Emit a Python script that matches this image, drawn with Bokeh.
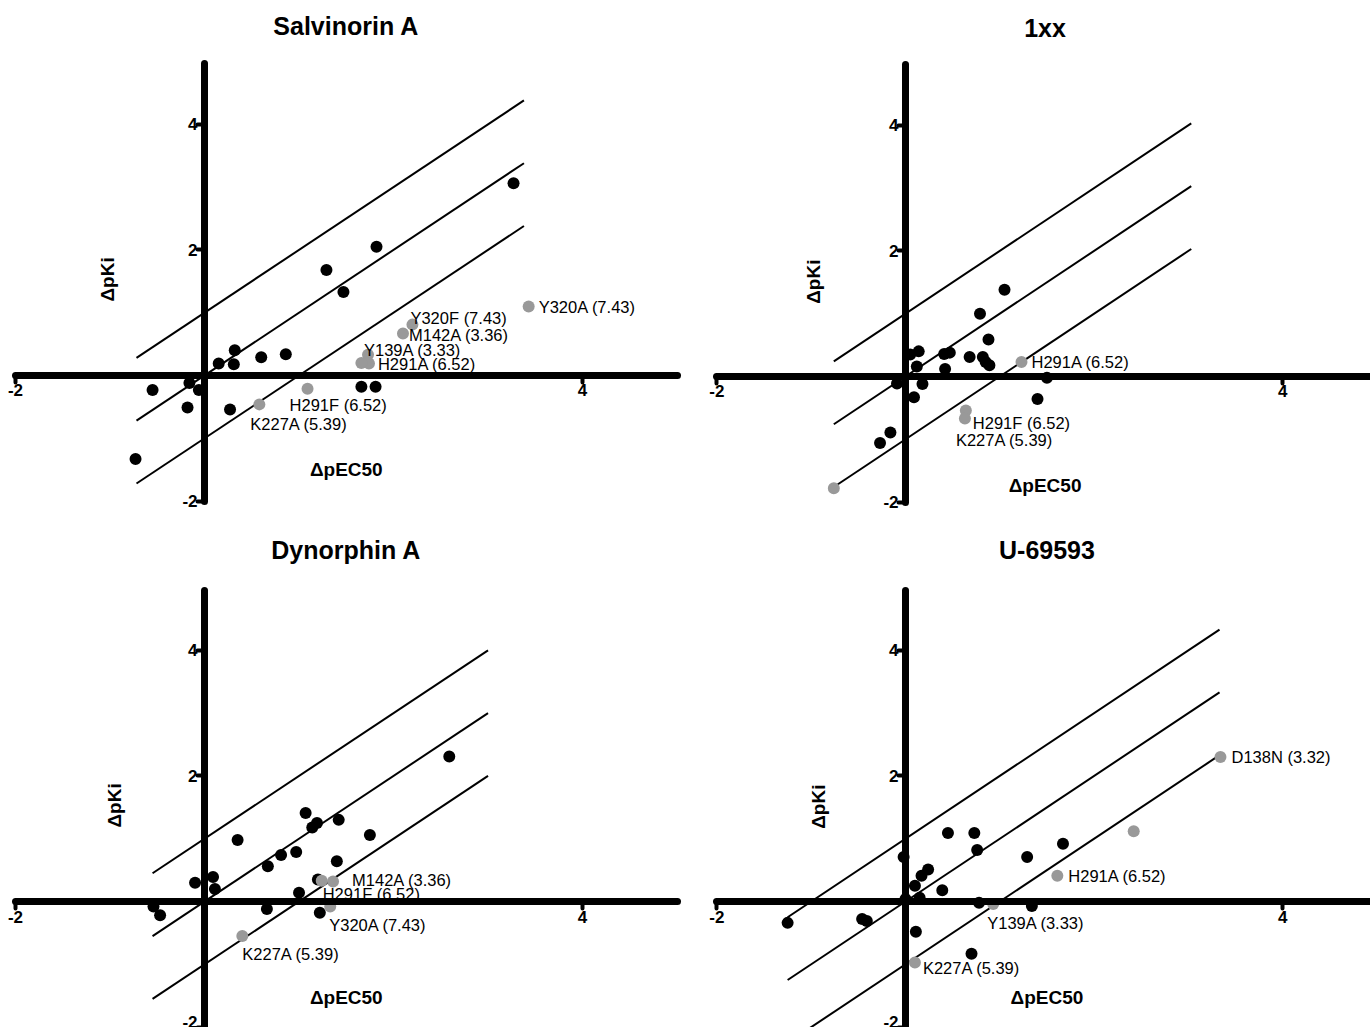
from bokeh.plotting import figure
from bokeh.models import Range1d, FixedTicker, Label, ColumnDataSource
from bokeh.layouts import column, row
from bokeh.embed import file_html
from bokeh.resources import INLINE
from bokeh.core.properties import value
import math

# ---------------- data ----------------
TITLES = ["Salvinorin A", "1xx", "Dynorphin A", "U-69593"]
X_TICKS = [-2, 4]
Y_TICKS = [-2, 2, 4]
TICK_TEXT = {-2: "-2", 2: "2", 4: "4"}
X_LABEL = "\u0394pEC50"
Y_LABEL = "\u0394pKi"
REF_OFFSETS = [1, 0, -1]          # reference lines y = x + c
REF_X_EXTENT = [(-0.72, 3.38), (-0.76, 3.03), (-0.55, 3.00), (-1.25, 3.33)]

# Salvinorin A
sal_black_x = [3.27, 1.82, 1.29, 1.47, 0.32, 0.15, 0.31, 0.60, 0.86, -0.55, -0.16, -0.06, -0.18, 0.27, -0.73, 1.66, 1.81]
sal_black_y = [3.06, 2.05, 1.68, 1.33, 0.40, 0.19, 0.18, 0.29, 0.34, -0.23, -0.12, -0.23, -0.51, -0.54, -1.33, -0.18, -0.18]
sal_grey_x = [3.43, 2.20, 2.10, 1.73, 1.74, 1.66, 1.09, 0.58]
sal_grey_y = [1.10, 0.81, 0.67, 0.33, 0.19, 0.20, -0.21, -0.46]
sal_grey_lab = ["Y320A (7.43)", "Y320F (7.43)", "M142A (3.36)", "Y139A (3.33)", "H291A (6.52)", "", "H291F (6.52)", "K227A (5.39)"]

# 1xx
xx_black_x = [1.05, 0.79, 0.88, 0.14, 0.05, 0.12, 0.41, 0.47, 0.42, 0.68, 0.82, 0.85, 0.89, 1.50, 1.40, -0.09, 0.18, 0.09, -0.16, -0.27]
xx_black_y = [1.38, 1.00, 0.59, 0.40, 0.35, 0.16, 0.36, 0.38, 0.12, 0.31, 0.31, 0.23, 0.18, -0.02, -0.36, -0.11, -0.12, -0.33, -0.89, -1.06]
xx_grey_x = [1.23, 0.64, 0.63, -0.76]
xx_grey_y = [0.23, -0.54, -0.67, -1.78]
xx_grey_lab = ["H291A (6.52)", "H291F (6.52)", "K227A (5.39)", ""]

# Dynorphin A
dyn_black_x = [2.59, 1.07, 1.19, 1.14, 1.42, 1.75, 0.35, 0.81, 0.97, 0.67, 1.40, -0.10, 0.09, 0.11, 1.00, 1.20, 0.66, 1.22, -0.47, -0.54]
dyn_black_y = [2.31, 1.41, 1.25, 1.18, 1.30, 1.06, 0.98, 0.74, 0.79, 0.56, 0.64, 0.30, 0.39, 0.20, 0.14, 0.35, -0.12, -0.18, -0.22, -0.08]
dyn_grey_x = [1.36, 1.24, 1.33, 0.40]
dyn_grey_y = [0.32, 0.33, -0.08, -0.55]
dyn_grey_lab = ["M142A (3.36)", "H291F (6.52)", "Y320A (7.43)", "K227A (5.39)"]

# U-69593
u69_black_x = [-1.25, -0.46, -0.41, 0.45, 0.73, 0.76, 1.67, 1.29, -0.02, 0.24, 0.17, 0.10, 0.39, 0.15, 0.00, 0.78, 1.34, 0.11, 0.70]
u69_black_y = [-0.34, -0.28, -0.31, 1.09, 1.09, 0.82, 0.92, 0.71, 0.71, 0.51, 0.41, 0.25, 0.18, 0.06, 0.04, -0.02, -0.07, -0.48, -0.83]
u69_grey_x = [3.34, 2.42, 1.61, 0.93, 0.10]
u69_grey_y = [2.30, 1.12, 0.41, -0.04, -0.97]
u69_grey_lab = ["D138N (3.32)", "", "H291A (6.52)", "Y139A (3.33)", "K227A (5.39)"]

# ---------------- styles / placement ----------------
LAB_DX = [[10, -2, 6, -4, 9, 0, -18, -9], [10, 7, -9, 0], [19, 1, -1, 0], [11, 0, 11, -6, 8]]
LAB_DY = [[1, -7, 2, -5, 0, 0, 16, 20], [0, 13, 21, 0], [-1, 13, 18, 18], [0, 0, 0, 19, 6]]
XLAB_POS = [(1.50, -1.50), (1.48, -1.74), (1.50, -1.53), (1.50, -1.53)]
YLAB_POS = [(-1.03, 1.53), (-0.98, 1.51), (-0.95, 1.53), (-0.92, 1.51)]
TITLE_POS = [(1.50, 5.56), (1.48, 5.55), (1.50, 5.59), (1.50, 5.60)]

FONT = "Liberation Sans"
GREY = "#999999"

SIZES = [(708, 534), (662, 534), (708, 493), (662, 493)]
XR = [(-2.159, 5.333), (-2.089, 4.931), (-2.159, 5.333), (-2.089, 4.931)]
YR = [(-2.532, 5.971), (-2.516, 5.987), (-2.006, 5.844), (-2.006, 5.844)]

panels = [
    (sal_black_x, sal_black_y, sal_grey_x, sal_grey_y, sal_grey_lab),
    (xx_black_x, xx_black_y, xx_grey_x, xx_grey_y, xx_grey_lab),
    (dyn_black_x, dyn_black_y, dyn_grey_x, dyn_grey_y, dyn_grey_lab),
    (u69_black_x, u69_black_y, u69_grey_x, u69_grey_y, u69_grey_lab),
]


def make_panel(i):
    bx, by, gx, gy, glab = panels[i]
    w, h = SIZES[i]
    p = figure(width=w, height=h, x_range=Range1d(*XR[i]), y_range=Range1d(*YR[i]),
               output_backend="svg", toolbar_location=None, min_border=0,
               outline_line_color=None, background_fill_color="white",
               border_fill_color="white")
    p.xgrid.grid_line_color = None
    p.ygrid.grid_line_color = None

    for ax, ticks in ((p.xaxis, X_TICKS), (p.yaxis, Y_TICKS)):
        ax.fixed_location = 0
        ax.ticker = FixedTicker(ticks=ticks)
        ax.major_label_overrides = {t: TICK_TEXT[t] for t in ticks}
        ax.axis_line_width = 7
        ax.axis_line_color = "black"
        ax.axis_line_cap = "round"
        ax.major_tick_line_width = 4
        ax.major_tick_line_cap = "round"
        ax.major_tick_line_color = "black"
        ax.major_tick_in = 0
        ax.major_tick_out = 7
        ax.minor_tick_line_color = None
        ax.major_label_text_font = FONT
        ax.major_label_text_font_style = "bold"
        ax.major_label_text_font_size = "17px"
        ax.major_label_text_color = "black"
    p.xaxis.bounds = (-2.0, 5.0)
    p.yaxis.bounds = (-2.0, 4.96)
    p.xaxis.major_label_standoff = 2
    p.yaxis.major_label_standoff = 0

    x0, x1 = REF_X_EXTENT[i]
    for c in REF_OFFSETS:
        p.line([x0, x1], [x0 + c, x1 + c], line_color="black", line_width=2)

    p.scatter(bx, by, size=12, fill_color="black", line_color="black", line_width=0)
    src = ColumnDataSource(dict(x=gx, y=gy, t=glab, dx=LAB_DX[i], dy=LAB_DY[i]))
    p.scatter("x", "y", source=src, size=12, fill_color=GREY, line_color=GREY, line_width=0)
    p.text(x="x", y="y", text="t", x_offset="dx", y_offset="dy", source=src,
           text_font=value(FONT), text_font_size="16.5px", text_align="left",
           text_baseline="middle", text_color="black")

    tx, ty = TITLE_POS[i]
    p.add_layout(Label(x=tx, y=ty, text=TITLES[i], text_font=FONT, text_font_size="25px",
                       text_font_style="bold", text_align="center", text_baseline="middle",
                       text_color="black"))
    lx, ly = XLAB_POS[i]
    p.add_layout(Label(x=lx, y=ly, text=X_LABEL, text_font=FONT, text_font_size="19px",
                       text_font_style="bold", text_align="center", text_baseline="middle",
                       text_color="black"))
    yx, yy = YLAB_POS[i]
    p.add_layout(Label(x=yx, y=yy, text=Y_LABEL, text_font=FONT, text_font_size="19px",
                       text_font_style="bold", text_align="center", text_baseline="middle",
                       angle=math.pi / 2, text_color="black"))
    return p


figs = [make_panel(i) for i in range(4)]
layout = column(row(figs[0], figs[1]), row(figs[2], figs[3]))

open("out.html", "w").write(file_html(layout, INLINE))
